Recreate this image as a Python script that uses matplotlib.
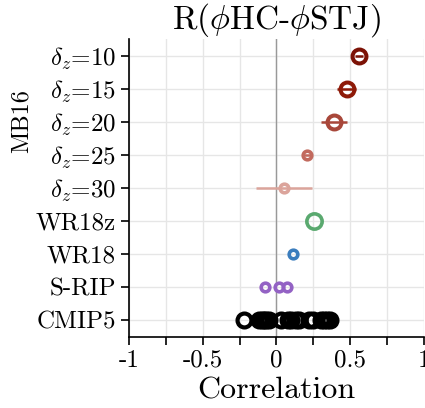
import matplotlib
matplotlib.use("Agg")
import matplotlib.pyplot as plt
import numpy as np

# data
labels = [r"$\delta_z$=10", r"$\delta_z$=15", r"$\delta_z$=20", r"$\delta_z$=25",
          r"$\delta_z$=30", "WR18z", "WR18", "S-RIP", "CMIP5"]
mb16_r = [0.56, 0.475, 0.39, 0.208, 0.053]
mb16_err = [0.03, 0.065, 0.09, 0.02, 0.19]
wr18z_r = [0.254]
wr18_r = [0.11]
srip_r = [-0.075, 0.02, 0.07]
cmip5_r = [-0.22, -0.12, -0.10, -0.085, -0.07, -0.05, 0.03, 0.08, 0.10,
           0.13, 0.15, 0.22, 0.25, 0.30, 0.32, 0.34, 0.36]
xticks = [-1, -0.75, -0.5, -0.25, 0, 0.25, 0.5, 0.75, 1]
xticklabels = ["-1", "", "-0.5", "", "0", "", "0.5", "", "1"]

mb16_colors = ["#7c1206", "#8e1a08", "#a8473a", "#c26a5e", "#dba49b"]
mb16_ms = [10, 10, 10, 6.2, 6.2]
mb16_mew = [2.9, 2.9, 2.9, 2.6, 2.6]

plt.rcParams["font.family"] = "serif"
plt.rcParams["font.serif"] = ["cmr10"]
plt.rcParams["mathtext.fontset"] = "cm"
plt.rcParams["axes.unicode_minus"] = False

fig = plt.figure(figsize=(4.25, 4.08), dpi=100)
ax = fig.add_axes([0.3035, 0.175, 0.694, 0.729])

ypos = np.arange(len(labels))

# MB16 rows
for i in range(len(mb16_r)):
    ax.errorbar(mb16_r[i], ypos[i], xerr=mb16_err[i], fmt="o",
                color=mb16_colors[i], mfc="none", mec=mb16_colors[i],
                ms=mb16_ms[i], mew=mb16_mew[i], elinewidth=1.8, zorder=3)

ax.plot(wr18z_r, [ypos[5]] * len(wr18z_r), "o", mfc="none", mec="#5aa96f",
        ms=11, mew=2.6, zorder=3)
ax.plot(wr18_r, [ypos[6]] * len(wr18_r), "o", mfc="none", mec="#3b7dbd",
        ms=6.2, mew=2.6, zorder=3)
ax.plot(srip_r, [ypos[7]] * len(srip_r), "o", mfc="none", mec="#9362c4",
        ms=6.2, mew=2.6, zorder=3)
ax.plot(cmip5_r, [ypos[8]] * len(cmip5_r), "o", mfc="none", mec="black",
        ms=10, mew=3.0, zorder=3)

ax.axvline(0, color="#999999", lw=1.0, zorder=1)

ax.set_xlim(-1, 1)
ax.set_ylim(len(labels) - 0.5, -0.5)
ax.set_yticks(ypos)
ax.set_yticklabels(labels, fontsize=18)
ax.set_xticks(xticks)
ax.set_xticklabels(xticklabels, fontsize=18)
ax.tick_params(length=6, width=1.2)
ax.grid(True, color="#e6e6e6", lw=1.0, zorder=0)
ax.set_axisbelow(True)
for s in ["top", "right"]:
    ax.spines[s].set_visible(False)
for s in ["left", "bottom"]:
    ax.spines[s].set_linewidth(1.2)

ax.set_title(r"R($\phi$HC-$\phi$STJ)", fontsize=24, pad=6)
ax.set_xlabel("Correlation", fontsize=23, labelpad=4)
fig.text(22 / 425, 1 - 121 / 408, "MB16", rotation=90, fontsize=17.5,
         ha="center", va="center")

fig.savefig("out.png", dpi=100)
